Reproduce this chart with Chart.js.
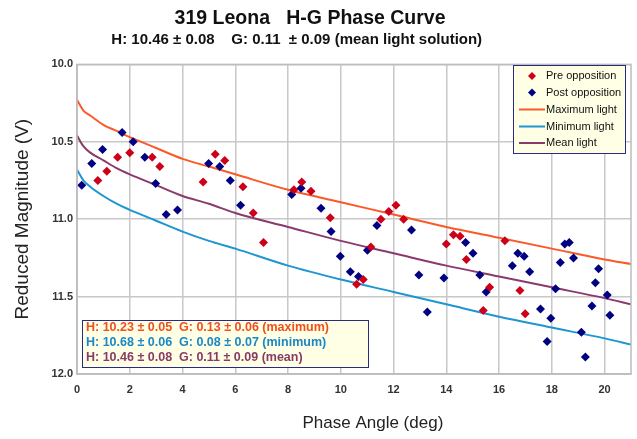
<!DOCTYPE html>
<html>
<head>
<meta charset="utf-8">
<script src="https://cdn.jsdelivr.net/npm/chart.js@4/dist/chart.umd.min.js"></script>
<style>
  body { margin: 0; background: #fff; }
  #wrap { width: 637px; height: 439px; }
</style>
</head>
<body>
<div id="wrap"><canvas id="phaseChart"></canvas></div>
<script>
// 319 Leona H-G phase curve

const preX = [0.79, 1.13, 1.54, 2.00, 2.85, 3.14, 4.78, 5.24, 5.60, 6.29, 6.68, 7.07, 8.22, 8.52, 8.87, 9.60,
  10.60, 10.85, 11.14, 11.52, 11.82, 12.09, 12.38, 14.00, 14.27, 14.52, 14.76, 15.40, 15.64, 16.22, 16.79, 16.99];
const preY = [10.75, 10.69, 10.60, 10.57, 10.60, 10.66, 10.76, 10.58, 10.62, 10.79, 10.96, 11.15, 10.81, 10.76, 10.82, 10.99,
  11.42, 11.39, 11.18, 11.00, 10.95, 10.91, 11.00, 11.16, 11.10, 11.11, 11.26, 11.59, 11.44, 11.14, 11.46, 11.61];

const postX = [0.18, 0.56, 0.97, 1.71, 2.13, 2.57, 2.98, 3.38, 3.81, 4.99, 5.41, 5.81, 6.20, 8.14, 8.49,
  9.25, 9.63, 9.98, 10.36, 10.67, 11.01, 11.37, 12.68, 12.96, 13.28, 13.91, 14.73, 15.01, 15.27, 15.51,
  16.50, 16.71, 16.95, 17.16, 17.57, 17.82, 17.96, 18.14, 18.32, 18.49, 18.66, 18.82,
  19.12, 19.27, 19.52, 19.65, 19.77, 20.10, 20.20];
const postY = [10.78, 10.64, 10.55, 10.44, 10.50, 10.60, 10.77, 10.97, 10.94, 10.64, 10.66, 10.75, 10.91, 10.84, 10.80,
  10.93, 11.08, 11.24, 11.34, 11.37, 11.20, 11.04, 11.07, 11.36, 11.60, 11.38, 11.15, 11.22, 11.36, 11.47,
  11.30, 11.22, 11.24, 11.34, 11.58, 11.79, 11.64, 11.45, 11.28, 11.16, 11.15, 11.25,
  11.73, 11.89, 11.56, 11.41, 11.32, 11.49, 11.62];

// fitted curves, read at these phase angles
const curveX = [0, 0.25, 0.5, 1, 1.5, 2, 3, 4, 5, 6, 8, 10, 12, 14, 16, 18, 20, 21];
const maxLight = [10.23, 10.30, 10.33, 10.39, 10.43, 10.47, 10.54, 10.61, 10.66, 10.71, 10.81, 10.89, 10.97, 11.05, 11.12, 11.19, 11.26, 11.29];
const minLight = [10.68, 10.75, 10.79, 10.85, 10.90, 10.94, 11.01, 11.08, 11.14, 11.19, 11.30, 11.39, 11.47, 11.55, 11.63, 11.70, 11.77, 11.81];
const meanLight = [10.46, 10.53, 10.57, 10.62, 10.67, 10.71, 10.78, 10.85, 10.90, 10.96, 11.05, 11.14, 11.22, 11.30, 11.37, 11.44, 11.51, 11.55];

const seriesNames = ['Pre opposition', 'Post opposition', 'Maximum light', 'Minimum light', 'Mean light'];
const solutions = [
  'H: 10.23 \u00b1 0.05  G: 0.13 \u00b1 0.06 (maximum)',
  'H: 10.68 \u00b1 0.06  G: 0.08 \u00b1 0.07 (minimum)',
  'H: 10.46 \u00b1 0.08  G: 0.11 \u00b1 0.09 (mean)'
];

const colors = ['#cc0018', '#000082', '#fa5a28', '#1e96d2', '#8a3a6c'];
const textColors = ['#f0501e', '#1a88c6', '#8a3a66'];
const FONT = "'Liberation Sans', Arial, sans-serif";
const NB = '\u00a0';

const pts = (xs, ys) => xs.map((x, i) => ({ x: x, y: ys[i] }));

// draws the frame, the legend box and the H/G box
const boxesPlugin = {
  id: 'boxes',
  afterDatasetsDraw(chart) {
    const ctx = chart.ctx, a = chart.chartArea;
    ctx.save();
    ctx.strokeStyle = '#bdbdbd';
    ctx.lineWidth = 1.5;
    ctx.strokeRect(a.left, a.top, a.right - a.left, a.bottom - a.top);

    // legend
    ctx.fillStyle = '#ffffe6';
    ctx.fillRect(513, 65, 113, 89);
    ctx.strokeStyle = '#2a2a80';
    ctx.lineWidth = 1;
    ctx.strokeRect(513.5, 65.5, 112, 88);
    ctx.font = '11px ' + FONT;
    ctx.textBaseline = 'middle';
    const rows = [76, 92.5, 109.5, 126.5, 143];
    seriesNames.forEach((name, i) => {
      const y = rows[i];
      if (i < 2) {
        ctx.fillStyle = colors[i];
        ctx.beginPath();
        ctx.moveTo(532, y - 4); ctx.lineTo(536, y); ctx.lineTo(532, y + 4); ctx.lineTo(528, y);
        ctx.closePath();
        ctx.fill();
      } else {
        ctx.strokeStyle = colors[i];
        ctx.lineWidth = 2;
        ctx.beginPath();
        ctx.moveTo(519, y); ctx.lineTo(545, y);
        ctx.stroke();
      }
      ctx.fillStyle = '#111';
      ctx.fillText(name, 546, y);
    });

    // solutions box
    ctx.fillStyle = '#ffffe6';
    ctx.fillRect(82, 320, 287, 48);
    ctx.strokeStyle = '#2a2a80';
    ctx.lineWidth = 1;
    ctx.strokeRect(82.5, 320.5, 286, 47);
    ctx.font = 'bold 12.5px ' + FONT;
    solutions.forEach((s, i) => {
      ctx.fillStyle = textColors[i];
      ctx.fillText(s, 86, 328 + i * 15);
    });
    ctx.restore();
  }
};

const lineSet = (label, ys, color) => ({
  type: 'line',
  label: label,
  data: pts(curveX, ys),
  borderColor: color,
  borderWidth: 2,
  pointRadius: 0,
  fill: false,
  cubicInterpolationMode: 'monotone'
});

new Chart(document.getElementById('phaseChart').getContext('2d'), {
  type: 'scatter',
  data: {
    datasets: [
      { label: seriesNames[0], data: pts(preX, preY), pointStyle: 'rectRot', pointRadius: 4.5,
        backgroundColor: colors[0], borderColor: colors[0], borderWidth: 0 },
      { label: seriesNames[1], data: pts(postX, postY), pointStyle: 'rectRot', pointRadius: 4.5,
        backgroundColor: colors[1], borderColor: colors[1], borderWidth: 0 },
      lineSet(seriesNames[2], maxLight, colors[2]),
      lineSet(seriesNames[3], minLight, colors[3]),
      lineSet(seriesNames[4], meanLight, colors[4])
    ]
  },
  options: {
    responsive: true,
    maintainAspectRatio: false,
    animation: false,
    layout: { padding: { top: 0, right: 6, bottom: 0, left: 0 } },
    plugins: {
      legend: { display: false },
      tooltip: { enabled: false },
      title: {
        display: true,
        text: '319 Leona   H-G Phase Curve' + NB.repeat(2),
        color: '#111',
        font: { family: FONT, size: 19.5, weight: 'bold' },
        padding: { top: 7, bottom: 0 }
      },
      subtitle: {
        display: true,
        text: 'H: 10.46 \u00b1 0.08    G: 0.11  \u00b1 0.09 (mean light solution)' + NB.repeat(9),
        color: '#111',
        font: { family: FONT, size: 15, weight: 'bold' },
        padding: { top: 0, bottom: 16 }
      }
    },
    scales: {
      x: {
        type: 'linear',
        min: 0,
        max: 21,
        afterBuildTicks: s => { s.ticks = s.ticks.filter(t => t.value % 2 === 0); },
        afterFit: s => { s.height = 65; },
        ticks: { stepSize: 2, padding: 9, color: '#333', font: { family: FONT, size: 11, weight: 'bold' } },
        grid: { color: '#c8c8c8', lineWidth: 1.5, drawTicks: false },
        border: { color: '#bdbdbd', width: 1.5 },
        title: { display: true, text: NB.repeat(8) + 'Phase Angle (deg)', color: '#222',
          font: { family: FONT, size: 17 }, padding: { top: 5, bottom: 5 } }
      },
      y: {
        min: 10,
        max: 12,
        reverse: true,
        afterFit: s => { s.width = 77; },
        ticks: { stepSize: 0.5, padding: 4, color: '#333', font: { family: FONT, size: 11, weight: 'bold' },
          callback: v => v.toFixed(1) },
        grid: { color: '#c8c8c8', lineWidth: 1.5, drawTicks: false },
        border: { color: '#bdbdbd', width: 1.5 },
        title: { display: true, text: 'Reduced Magnitude (V)', color: '#222',
          font: { family: FONT, size: 19 }, padding: { top: 11, bottom: 11 } }
      }
    }
  },
  plugins: [boxesPlugin]
});
</script>
</body>
</html>
